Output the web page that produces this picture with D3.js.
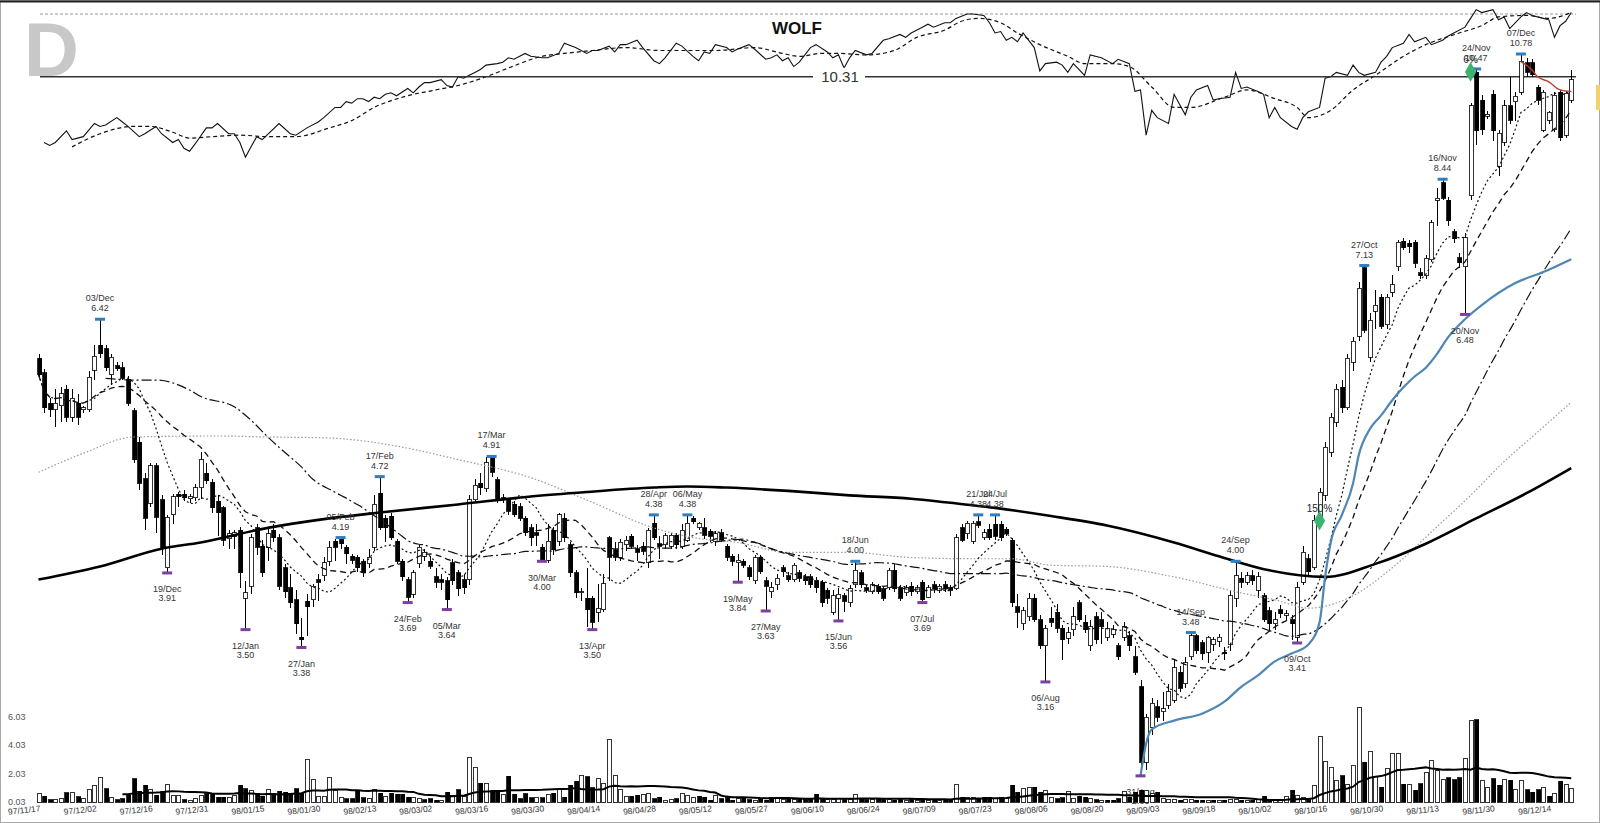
<!DOCTYPE html>
<html>
<head>
<meta charset="utf-8">
<script src="https://cdn.jsdelivr.net/npm/d3@7"></script>
<style>
body{margin:0;background:#fff;}
svg{display:block;font-family:Arial,"Liberation Sans",sans-serif;}
</style>
</head>
<body>
<svg id="chart" width="1600" height="823"></svg>
<script>
// WOLF daily bars, 97/11/17 .. 98/12/18
var opens=[
5.95,5.78,5.45,5.38,5.42,5.60,5.30,5.45,5.38,5.38,
5.81,6.10,6.06,5.76,5.86,5.84,5.71,5.37,5.05,4.70,
4.48,4.82,4.51,3.95,4.38,4.56,4.56,4.52,4.53,4.62,
4.75,4.67,4.50,4.44,4.18,4.20,4.25,3.72,3.81,4.27,
4.12,4.11,4.25,4.19,3.95,3.80,3.71,3.45,3.70,3.71,
3.86,3.89,4.00,4.16,4.18,4.11,4.04,4.03,4.00,3.98,
4.11,4.57,4.35,4.37,4.16,4.00,3.86,3.75,3.98,4.04,
4.00,3.88,3.86,3.85,3.99,3.91,3.86,3.86,4.51,4.66,
4.61,4.90,4.69,4.53,4.51,4.47,4.45,4.35,4.27,4.23,
4.11,4.01,4.25,4.16,4.35,4.13,3.91,3.76,3.72,3.72,
3.62,3.64,4.19,4.09,4.03,4.13,4.20,4.10,4.12,3.99,
4.31,4.14,4.13,4.12,4.21,4.12,4.17,4.35,4.27,4.27,
4.24,4.16,4.23,4.12,4.04,3.99,4.00,3.95,3.85,4.03,
3.85,3.77,3.82,3.95,3.89,3.86,3.91,3.88,3.88,3.85,
3.84,3.78,3.62,3.72,3.74,3.69,3.82,3.91,3.80,3.77,
3.81,3.79,3.80,3.93,3.80,3.76,3.81,3.77,3.84,3.73,
3.82,3.78,3.82,3.80,3.79,4.27,4.22,4.16,4.32,4.19,
4.26,4.30,4.30,4.26,4.17,3.66,3.54,3.59,3.72,3.57,
3.39,3.58,3.62,3.51,3.44,3.50,3.69,3.55,3.39,3.59,
3.57,3.45,3.47,3.39,3.45,3.46,3.32,3.13,2.70,2.89,
3.01,2.98,3.02,3.05,3.22,3.15,3.32,3.46,3.41,3.35,
3.40,3.42,3.35,3.40,3.72,3.87,3.84,3.89,3.78,3.74,
3.63,3.54,3.64,3.60,3.57,3.45,3.84,4.02,3.95,4.33,
4.55,4.95,5.25,5.62,5.40,5.90,6.21,7.10,5.96,6.52,
6.70,6.35,6.77,7.11,7.48,7.45,7.46,7.03,6.99,7.21,
8.10,8.38,8.10,7.62,7.24,7.11,8.17,10.40,9.85,9.55,
9.96,8.66,9.07,9.74,9.82,10.00,10.60,10.60,10.10,9.29,
9.47,9.30,10.00,9.20,9.85];
var highs=[
6.00,5.82,5.50,5.60,5.62,5.65,5.60,5.55,5.42,5.80,
6.10,6.42,6.10,6.00,5.90,5.90,5.75,5.40,5.10,4.75,
4.85,4.85,4.55,4.38,4.56,4.58,4.60,4.56,4.65,4.95,
4.85,4.70,4.55,4.46,4.25,4.25,4.28,3.85,4.22,4.30,
4.17,4.27,4.30,4.22,3.98,3.90,3.78,3.58,3.75,3.83,
3.90,4.03,4.16,4.18,4.19,4.13,4.06,4.05,4.02,4.10,
4.55,4.72,4.38,4.40,4.18,4.02,3.88,3.93,4.13,4.10,
4.04,3.95,3.90,3.88,4.02,3.93,3.90,4.55,4.70,4.75,
4.90,4.91,4.72,4.56,4.53,4.50,4.48,4.37,4.30,4.30,
4.14,4.30,4.28,4.40,4.40,4.15,3.93,3.80,3.95,3.74,
3.83,3.90,4.20,4.15,4.18,4.20,4.22,4.13,4.15,4.27,
4.38,4.20,4.23,4.23,4.23,4.30,4.38,4.37,4.32,4.35,
4.26,4.24,4.26,4.14,4.06,4.06,4.02,3.97,4.05,4.05,
3.88,3.84,3.90,3.97,3.92,3.99,3.93,3.90,3.90,3.88,
3.86,3.80,3.78,3.80,3.76,3.82,4.00,3.93,3.82,3.84,
3.83,3.81,3.95,3.98,3.82,3.82,3.84,3.82,3.86,3.82,
3.85,3.83,3.85,3.82,4.22,4.30,4.33,4.33,4.38,4.26,
4.30,4.38,4.33,4.28,4.19,3.75,3.66,3.76,3.75,3.60,
3.53,3.66,3.68,3.53,3.52,3.66,3.71,3.60,3.57,3.62,
3.62,3.55,3.53,3.41,3.55,3.49,3.39,3.17,2.97,3.06,
3.05,3.10,3.15,3.30,3.26,3.32,3.48,3.47,3.43,3.46,
3.45,3.47,3.38,3.78,4.00,3.92,3.92,3.93,3.92,3.76,
3.66,3.62,3.67,3.64,3.60,3.84,4.12,4.06,4.38,4.62,
5.05,5.35,5.66,5.70,6.00,6.20,6.90,7.13,6.50,6.80,
6.75,6.75,7.00,7.50,7.52,7.50,7.50,7.10,7.28,7.80,
8.30,8.44,8.15,7.66,7.30,7.60,9.80,10.47,9.95,9.65,
10.05,9.30,9.85,10.30,10.00,10.78,10.70,10.68,10.15,10.05,
9.65,10.00,10.05,10.02,10.45];
var lows=[
5.72,5.35,5.30,5.20,5.25,5.25,5.25,5.22,5.35,5.36,
5.70,5.95,5.80,5.65,5.80,5.70,5.42,4.85,4.60,4.25,
4.45,4.23,4.05,3.91,4.30,4.45,4.50,4.48,4.50,4.52,
4.65,4.40,4.20,4.12,4.10,4.10,3.80,3.50,3.75,4.05,
3.88,4.00,4.15,3.78,3.72,3.65,3.47,3.38,3.46,3.66,
3.70,3.85,3.96,4.00,4.10,3.98,3.98,3.92,3.88,3.95,
4.08,4.25,4.15,4.17,3.98,3.85,3.69,3.72,3.95,4.00,
3.94,3.80,3.78,3.64,3.82,3.74,3.75,3.82,4.48,4.55,
4.58,4.72,4.48,4.48,4.38,4.36,4.33,4.20,4.12,4.12,
4.00,3.99,4.05,4.12,4.15,3.88,3.72,3.70,3.52,3.50,
3.55,3.62,3.85,4.00,4.00,4.08,4.10,4.00,4.05,3.95,
4.17,4.02,4.10,4.10,4.10,4.10,4.15,4.30,4.25,4.18,
4.15,4.12,4.15,4.00,3.96,3.84,3.95,3.86,3.83,3.90,
3.63,3.72,3.78,3.88,3.84,3.84,3.84,3.82,3.80,3.76,
3.66,3.68,3.60,3.56,3.62,3.66,3.80,3.80,3.76,3.75,
3.75,3.70,3.78,3.77,3.70,3.74,3.74,3.75,3.69,3.72,
3.76,3.76,3.77,3.74,3.78,4.15,4.18,4.14,4.27,4.17,
4.17,4.17,4.16,4.20,3.66,3.51,3.50,3.56,3.55,3.37,
3.16,3.52,3.48,3.30,3.40,3.46,3.55,3.48,3.36,3.40,
3.40,3.42,3.44,3.30,3.42,3.36,3.20,2.63,2.66,2.85,
2.92,2.93,3.00,3.03,3.10,3.12,3.30,3.34,3.30,3.28,
3.36,3.38,3.30,3.36,3.66,3.80,3.82,3.82,3.72,3.55,
3.50,3.50,3.58,3.57,3.43,3.41,3.82,3.88,3.93,4.30,
4.50,4.90,5.20,5.35,5.38,5.80,6.15,6.25,5.90,6.30,
6.30,6.30,6.70,7.05,7.35,7.30,7.10,6.95,6.95,7.18,
7.70,8.10,7.70,7.45,7.10,6.48,8.10,9.03,9.20,9.50,
9.10,8.50,9.00,9.40,9.45,9.95,10.30,10.30,9.75,9.25,
9.40,9.25,9.10,9.15,9.80];
var closes=[
5.76,5.40,5.38,5.45,5.55,5.30,5.50,5.30,5.40,5.73,
5.97,6.00,5.84,5.96,5.83,5.72,5.45,4.88,4.66,4.35,
4.82,4.36,4.11,4.36,4.54,4.54,4.53,4.54,4.62,4.88,
4.68,4.44,4.40,4.17,4.22,4.23,3.91,3.76,4.19,4.11,
3.91,4.22,4.19,3.81,3.77,3.69,3.54,3.43,3.66,3.81,
3.84,3.99,4.11,4.11,4.14,4.06,4.01,3.95,3.91,4.03,
4.47,4.27,4.27,4.19,4.00,3.88,3.73,3.91,4.11,4.07,
3.96,3.84,3.84,3.71,3.85,3.79,3.80,4.51,4.64,4.62,
4.85,4.76,4.51,4.51,4.41,4.38,4.35,4.23,4.19,4.21,
4.01,4.16,4.09,4.38,4.19,3.91,3.76,3.77,3.64,3.55,
3.65,3.83,4.03,4.03,4.15,4.17,4.12,4.07,4.08,4.25,
4.19,4.12,4.21,4.21,4.13,4.25,4.31,4.32,4.31,4.21,
4.20,4.22,4.17,4.03,4.00,4.01,3.97,3.88,4.03,3.92,
3.81,3.80,3.87,3.92,3.86,3.97,3.87,3.85,3.82,3.80,
3.69,3.72,3.74,3.75,3.70,3.79,3.93,3.82,3.78,3.82,
3.77,3.72,3.93,3.79,3.72,3.80,3.77,3.80,3.71,3.80,
3.79,3.81,3.79,3.78,4.19,4.17,4.31,4.31,4.29,4.23,
4.19,4.20,4.19,4.22,3.69,3.62,3.63,3.72,3.57,3.39,
3.51,3.55,3.51,3.43,3.48,3.59,3.57,3.50,3.52,3.43,
3.52,3.51,3.50,3.32,3.52,3.39,3.22,2.70,2.95,3.03,
2.95,3.00,3.10,3.25,3.12,3.28,3.46,3.36,3.34,3.45,
3.43,3.45,3.34,3.74,3.89,3.84,3.89,3.85,3.88,3.57,
3.54,3.57,3.61,3.61,3.54,3.80,4.07,3.92,4.33,4.58,
5.00,5.30,5.60,5.40,5.95,6.15,6.82,6.28,6.41,6.60,
6.33,6.70,6.87,7.46,7.38,7.40,7.16,6.99,7.23,7.75,
8.13,8.13,7.78,7.51,7.17,7.53,9.74,9.28,9.30,9.58,
9.28,9.23,9.74,9.47,9.93,10.62,10.40,10.35,9.85,10.00,
9.62,9.95,9.15,9.98,10.25];
var volumes=[
0.60,0.42,0.20,0.20,0.25,0.70,0.70,0.40,0.25,0.90,
1.20,1.75,0.97,0.33,0.20,0.26,0.50,1.67,0.80,1.20,
0.90,0.50,0.80,1.27,0.50,0.50,0.19,0.15,0.26,0.49,
0.61,0.66,0.38,0.38,0.33,0.49,1.20,0.97,0.85,0.60,
0.42,0.90,0.66,0.80,0.73,0.66,0.97,0.66,3.04,1.60,
0.42,0.42,1.74,0.85,0.33,0.26,0.26,0.85,0.33,0.26,
0.94,0.66,0.42,0.66,0.57,0.57,0.38,0.33,0.26,0.19,
0.26,0.15,0.15,0.73,0.49,0.90,0.42,3.20,2.45,1.37,
1.37,0.85,0.85,0.57,1.84,0.57,0.26,0.61,0.33,0.33,
0.33,0.57,0.66,0.97,0.38,1.20,1.50,1.90,1.80,1.04,
1.67,1.37,4.43,1.90,0.90,0.42,0.42,0.49,0.57,0.66,
0.26,0.38,0.15,0.19,0.26,0.61,0.49,0.38,0.42,0.38,
0.15,0.49,0.26,0.33,0.15,0.26,0.38,0.19,0.15,0.26,
0.15,0.38,0.26,0.19,0.26,0.22,0.26,0.20,0.30,0.56,
0.26,0.20,0.22,0.26,0.20,0.22,0.56,0.30,0.20,0.22,
0.26,0.19,0.20,0.15,0.19,0.15,0.19,0.15,0.20,0.15,
0.19,0.15,0.20,0.22,1.25,0.38,0.38,0.33,0.30,0.38,
0.38,0.30,0.38,0.26,1.20,0.73,1.00,1.08,1.08,0.73,
0.85,0.38,0.26,0.33,0.80,0.26,0.42,0.38,0.26,0.19,
0.15,0.15,0.15,0.26,0.80,0.38,0.73,0.85,0.85,0.61,
0.73,0.26,0.20,0.19,0.15,0.19,0.20,0.15,0.15,0.12,
0.15,0.12,0.15,0.20,0.19,0.15,0.12,0.15,0.19,0.42,
0.15,0.12,0.15,0.42,0.85,0.49,0.33,0.26,1.20,4.62,
2.90,2.50,1.55,1.90,1.30,2.60,6.70,2.85,3.56,1.80,
1.08,2.38,3.44,3.44,1.27,1.27,0.85,1.32,2.14,2.97,
2.26,1.60,1.74,1.60,1.74,3.09,5.75,5.84,1.55,1.04,
1.67,1.20,1.60,1.55,0.90,1.55,0.90,0.73,0.90,1.08,
0.42,0.66,1.50,1.30,0.97];

var tickLabels=['97/11/17','97/12/02','97/12/16','97/12/31','98/01/15','98/01/30','98/02/13',
'98/03/02','98/03/16','98/03/30','98/04/14','98/04/28','98/05/12','98/05/27','98/06/10',
'98/06/24','98/07/09','98/07/23','98/08/06','98/08/20','98/09/03','98/09/18','98/10/02',
'98/10/16','98/10/30','98/11/13','98/11/30','98/12/14'];
var volTicks=[0.03,2.03,4.03,6.03];

// swing highs / lows: [bar, date label, price]
var highMarks=[[11,'03/Dec',6.42],[54,'05/Feb',4.19],[61,'17/Feb',4.72],[81,'17/Mar',4.91],
[110,'28/Apr',4.38],[116,'06/May',4.38],[146,'18/Jun',4.00],[168,'21/Jul',4.38],[171,'24/Jul',4.38],
[206,'14/Sep',3.48],[214,'24/Sep',4.00],[237,'27/Oct',7.13],[251,'16/Nov',8.44],[257,'24/Nov',10.47],
[265,'07/Dec',10.78]];
var lowMarks=[[23,'19/Dec',3.91],[37,'12/Jan',3.50],[47,'27/Jan',3.38],[66,'24/Feb',3.69],
[73,'05/Mar',3.64],[90,'30/Mar',4.00],[99,'13/Apr',3.50],[125,'19/May',3.84],[130,'27/May',3.63],
[143,'15/Jun',3.56],[158,'07/Jul',3.69],[180,'06/Aug',3.16],[197,'31/Aug',2.63],[225,'09/Oct',3.41],
[255,'20/Nov',6.48]];
var signals=[[229,4.33,'150%'],[256,10.41,'6%']];
var priceLine=10.31;

// long averages (they carry history from before the window)
var ma50Early=[[12,5.72],[17,5.70],[21,5.70],[27,5.59],[29,5.52],[35,5.41],[38,5.27],[41,5.10],[44,4.95],[47,4.81]];
var ma100Pts=[[0,4.76],[8,4.94],[17,5.10],[32,5.11],[41,5.10],[52,5.09],[63,5.02],[75,4.88],[88,4.71],
[98,4.51],[110,4.27],[117,4.19],[125,4.15],[134,4.07],[145,4.07],[156,4.03],[168,4.02],[174,4.02],
[181,3.97],[191,3.96],[203,3.88],[215,3.76],[221,3.71],[227,3.65],[235,3.74],[242,3.95],[250,4.28],
[256,4.55],[262,4.86],[268,5.15],[274,5.46]];
var ma200Pts=[[0,3.86],[11,3.96],[22,4.10],[29,4.15],[41,4.27],[52,4.35],[61,4.40],[75,4.47],[88,4.54],
[98,4.58],[110,4.62],[116,4.63],[123,4.62],[134,4.59],[145,4.55],[156,4.52],[162,4.49],[171,4.44],
[181,4.37],[191,4.29],[203,4.15],[211,4.04],[220,3.93],[230,3.88],[239,3.98],[248,4.14],[257,4.35],
[266,4.57],[274,4.80]];
var bluePts=[[197,2.63],[198,2.80],[199,2.88],[203,2.93],[208,2.97],[212,3.04],[215,3.13],[218,3.20],
[221,3.29],[224,3.34],[227,3.40],[229,3.55],[230,3.88],[231,4.15],[233,4.38],[235,4.66],[236,4.92],
[238,5.18],[240,5.32],[242,5.48],[244,5.62],[246,5.74],[248,5.84],[250,6.00],[252,6.20],[255,6.42],
[258,6.60],[264,6.89],[269,7.04],[274,7.22]];
var redPts=[[265,10.62],[267,10.45],[268,10.31],[270,10.21],[272,10.05],[274,10.02]];

// relative strength panel: [bar, value]
var oscPts=[[1,12],[2,10],[3,12],[5,20],[6,14],[8,16],[10,25],[11,23],[12,24],[14,29],[15,26],[16,23],
[18,16],[19,18],[21,23],[22,18],[24,12],[25,14],[26,8],[27,6],[28,11],[30,22],[31,22],[32,25],[34,18],
[35,18],[36,12],[37,2],[38,9],[39,16],[40,14],[43,25],[45,18],[46,17],[48,22],[50,26],[51,29],[53,36],
[54,36],[55,40],[56,39],[57,42],[58,42],[59,40],[60,43],[61,42],[62,45],[63,46],[64,44],[66,49],[67,46],
[68,50],[69,53],[70,53],[72,55],[73,51],[74,50],[75,57],[76,56],[77,58],[78,60],[79,62],[80,65],[82,66],
[83,67],[84,70],[85,69],[87,73],[88,71],[90,70],[91,70],[93,73],[94,80],[96,77],[98,73],[99,75],[100,75],
[102,78],[103,74],[104,79],[105,79],[107,82],[108,77],[110,68],[111,66],[112,70],[114,80],[115,78],
[117,71],[118,68],[119,74],[120,73],[121,79],[123,77],[124,74],[125,76],[127,79],[128,76],[130,69],
[131,70],[132,72],[133,68],[134,70],[135,64],[136,67],[138,77],[139,79],[141,74],[142,70],[143,72],
[144,63],[145,70],[146,75],[148,72],[149,73],[151,82],[152,83],[154,86],[155,84],[156,87],[158,91],
[159,93],[160,91],[162,94],[163,94],[164,97],[166,100],[167,100],[169,99],[170,94],[171,87],[172,88],
[173,82],[174,84],[175,81],[176,87],[178,77],[179,61],[180,66],[182,67],[183,65],[184,60],[185,66],
[187,58],[188,72],[190,70],[192,66],[193,69],[195,66],[196,47],[197,48],[198,17],[199,34],[200,29],
[202,25],[203,45],[205,31],[206,43],[207,48],[209,51],[210,41],[211,42],[213,43],[214,60],[215,49],
[216,50],[218,47],[219,45],[220,29],[221,36],[222,29],[224,23],[225,21],[226,29],[227,33],[229,36],
[230,56],[231,57],[232,60],[234,58],[235,65],[236,60],[237,58],[239,60],[240,67],[241,71],[242,77],
[244,80],[245,86],[246,81],[248,84],[249,79],[251,82],[252,85],[253,87],[255,91],[256,97],[257,103],
[258,101],[260,103],[261,96],[262,98],[263,90],[265,98],[266,101],[267,99],[269,97],[270,96],[271,84],
[272,92],[273,95],[274,101]];
var oscSignal=[[6,9],[11,18],[17,23],[20,23],[24,19],[27,15],[31,16],[36,17],[41,16],[46,16],[52,22],
[56,27],[60,36],[65,43],[71,48],[75,51],[80,57],[84,63],[90,71],[94,73],[99,75],[105,77],[111,75],
[116,75],[121,75],[128,77],[133,73],[136,71],[140,73],[143,73],[148,72],[153,75],[157,84],[162,89],
[165,95],[168,97],[172,94],[175,87],[179,79],[184,71],[187,66],[192,66],[195,64],[199,50],[203,36],
[206,36],[212,43],[216,48],[221,42],[225,36],[227,29],[231,34],[235,48],[239,58],[244,71],[248,79],
[254,87],[258,92],[261,98],[266,99],[270,97],[274,101]];

var svg=d3.select('#chart');
var x=d3.scaleLinear().domain([0,274]).range([38.5,38.5+5.594*274]);
var y=d3.scaleLog().domain([2.5335,11.98]).range([795,0]);
var yv=d3.scaleLinear().domain([0.03,6.03]).range([802,717]);
var yo=d3.scaleLinear().domain([0,100]).range([160,14]);
var idx=d3.range(closes.length);

function sma(arr,n){
    return arr.map(function(d,i){ return d3.mean(arr.slice(Math.max(0,i-n+1),i+1)); });
}
function fullSma(arr,n,from){
    var out=[];
    for(var i=(from||n-1);i<arr.length;i++) out.push([i,d3.mean(arr.slice(Math.max(0,i-n+1),i+1))]);
    return out;
}

// frame
svg.append('rect').attr('x',0.5).attr('y',0.5).attr('width',1599).attr('height',822)
    .attr('fill','none').attr('stroke','#aaa');
svg.append('line').attr('x1',0).attr('x2',1600).attr('y1',1.5).attr('y2',1.5)
    .attr('stroke','#222').attr('stroke-width',2);
svg.append('rect').attr('x',1596).attr('y',85).attr('width',4).attr('height',25).attr('fill','#f2d36b');

svg.append('text').attr('x',24).attr('y',76).attr('font-size',76).attr('font-weight','bold')
    .attr('fill','#c8c8c8').text('D');

// relative strength panel
svg.append('line').attr('x1',40).attr('x2',1576).attr('y1',yo(100)).attr('y2',yo(100))
    .attr('stroke','#999').attr('stroke-dasharray','3,2');
var oLine=d3.line().x(function(d){return x(d[0]);}).y(function(d){return yo(d[1]);});
svg.append('path').datum(oscSignal).attr('d',oLine.curve(d3.curveMonotoneX))
    .attr('fill','none').attr('stroke','#111').attr('stroke-width',1.2).attr('stroke-dasharray','4,3');
svg.append('path').datum(oscPts).attr('d',oLine.curve(d3.curveLinear))
    .attr('fill','none').attr('stroke','#111').attr('stroke-width',1.1);

// horizontal price line
svg.append('line').attr('x1',40).attr('x2',1576).attr('y1',y(priceLine)).attr('y2',y(priceLine))
    .attr('stroke','#333').attr('stroke-width',1.5);
svg.append('rect').attr('x',813).attr('y',y(priceLine)-9).attr('width',52).attr('height',18).attr('fill','#fff');
svg.append('text').attr('x',840).attr('y',y(priceLine)+5.5).attr('text-anchor','middle')
    .attr('font-size',15).attr('fill','#333').text(priceLine.toFixed(2));

// candles
var cg=svg.append('g').attr('shape-rendering','crispEdges');
cg.selectAll('line.wick').data(idx).enter().append('line')
    .attr('x1',function(i){return Math.round(x(i))+0.5;}).attr('x2',function(i){return Math.round(x(i))+0.5;})
    .attr('y1',function(i){return y(highs[i]);}).attr('y2',function(i){return y(lows[i]);})
    .attr('stroke','#000').attr('stroke-width',1);
cg.selectAll('rect.body').data(idx).enter().append('rect')
    .attr('x',function(i){return Math.round(x(i))-1.5;})
    .attr('y',function(i){return y(Math.max(opens[i],closes[i]));})
    .attr('width',4)
    .attr('height',function(i){return Math.max(1,y(Math.min(opens[i],closes[i]))-y(Math.max(opens[i],closes[i])));})
    .attr('fill',function(i){return closes[i]>=opens[i]?'#fff':'#000';})
    .attr('stroke','#000').attr('stroke-width',0.8);

// moving averages
var pLine=d3.line().x(function(d){return x(d[0]);}).y(function(d){return y(d[1]);});
var ma10=sma(closes,10).map(function(v,i){return [i,v];});
var ma20=sma(closes,20).map(function(v,i){return [i,v];});
var ma50=ma50Early.concat(fullSma(closes,50));
function drawLine(pts,stroke,width,dash,curve){
    svg.append('path').datum(pts).attr('d',pLine.curve(curve||d3.curveLinear))
        .attr('fill','none').attr('stroke',stroke).attr('stroke-width',width)
        .attr('stroke-dasharray',dash||null);
}
drawLine(ma100Pts,'#999',1.2,'1.5,2',d3.curveMonotoneX);
drawLine(ma200Pts,'#000',2.6,null,d3.curveMonotoneX);
drawLine(ma50,'#111',1.2,'10,3,2,3',d3.curveMonotoneX);
drawLine(ma20,'#111',1.3,'6,4');
drawLine(ma10,'#111',1.2,'2,2.5');
drawLine(bluePts,'#4f86b5',2.2,null,d3.curveMonotoneX);
drawLine(redPts,'#c0392b',1.4,null,d3.curveMonotoneX);

// swing markers
var ag=svg.append('g').attr('font-size',9).attr('fill','#333').attr('text-anchor','middle');
highMarks.forEach(function(m){
    var mx=x(m[0]), my=y(m[2]);
    ag.append('rect').attr('x',mx-5).attr('y',my-1.5).attr('width',10).attr('height',3).attr('fill','#2d7fc1');
    ag.append('text').attr('x',mx).attr('y',my-18).text(m[1]);
    ag.append('text').attr('x',mx).attr('y',my-8).text(m[2].toFixed(2));
});
lowMarks.forEach(function(m){
    var mx=x(m[0]), my=y(m[2]);
    ag.append('rect').attr('x',mx-5).attr('y',my-1.5).attr('width',10).attr('height',3).attr('fill','#7e3f9e');
    ag.append('text').attr('x',mx).attr('y',my+19.5).text(m[1]);
    ag.append('text').attr('x',mx).attr('y',my+28.5).text(m[2].toFixed(2));
});
signals.forEach(function(s){
    svg.append('path').attr('d',d3.symbol().type(d3.symbolDiamond).size(110)())
        .attr('transform','translate('+x(s[0])+','+y(s[1])+')').attr('fill','#3cb371');
    svg.append('text').attr('x',x(s[0])).attr('y',y(s[1])-9).attr('text-anchor','middle')
        .attr('font-size',10).attr('fill','#222').text(s[2]);
});

// volume
var vg=svg.append('g').attr('shape-rendering','crispEdges');
vg.selectAll('rect').data(idx).enter().append('rect')
    .attr('x',function(i){return Math.round(x(i))-1.5;})
    .attr('y',function(i){return yv(volumes[i]);})
    .attr('width',4)
    .attr('height',function(i){return Math.max(0.5,yv(0.03)-yv(volumes[i]));})
    .attr('fill',function(i){return i>0&&closes[i]<closes[i-1]?'#000':'#fff';})
    .attr('stroke','#000').attr('stroke-width',0.8);
svg.append('path').datum(fullSma(volumes,20,15))
    .attr('d',d3.line().x(function(d){return x(d[0]);}).y(function(d){return yv(d[1]);}))
    .attr('fill','none').attr('stroke','#000').attr('stroke-width',2);
svg.selectAll('text.vt').data(volTicks).enter().append('text')
    .attr('x',8).attr('y',function(d){return yv(d)+3;})
    .attr('font-size',9).attr('fill','#555').text(function(d){return d.toFixed(2);});

// date axis
svg.selectAll('text.xt').data(tickLabels).enter().append('text')
    .attr('transform',function(d,k){return 'translate('+(x(k*10)-14)+',813) rotate(-6)';})
    .attr('text-anchor','middle').attr('font-size',8.5).attr('fill','#333')
    .text(function(d){return d;});

svg.append('text').attr('x',797).attr('y',34).attr('text-anchor','middle')
    .attr('font-size',17).attr('font-weight','bold').attr('fill','#111').text('WOLF');
</script>
</body>
</html>
